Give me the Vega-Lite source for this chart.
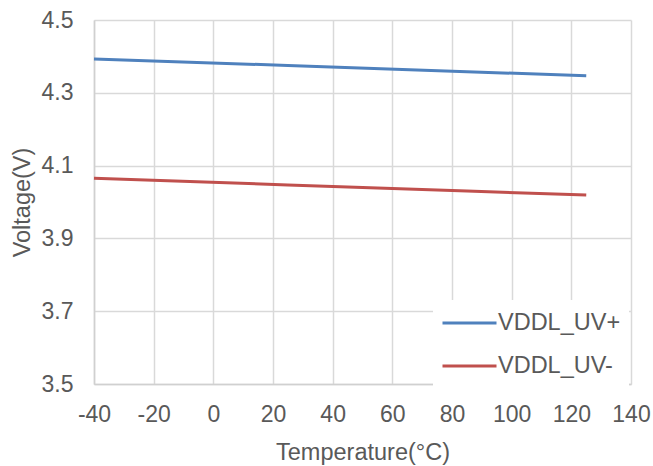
{
  "$schema": "https://vega.github.io/schema/vega-lite/v6.json",
  "autosize": "none",
  "width": 537,
  "height": 364,
  "padding": {"left": 94, "top": 20, "right": 22, "bottom": 82},
  "background": "white",
  "data": {
    "values": [
      {"temp": -40, "voltage": 4.393, "series": "VDDL_UV+"},
      {"temp": 25, "voltage": 4.375, "series": "VDDL_UV+"},
      {"temp": 85, "voltage": 4.358, "series": "VDDL_UV+"},
      {"temp": 125, "voltage": 4.347, "series": "VDDL_UV+"},
      {"temp": -40, "voltage": 4.065, "series": "VDDL_UV-"},
      {"temp": 25, "voltage": 4.047, "series": "VDDL_UV-"},
      {"temp": 85, "voltage": 4.030, "series": "VDDL_UV-"},
      {"temp": 125, "voltage": 4.019, "series": "VDDL_UV-"}
    ]
  },
  "mark": {"type": "line", "strokeWidth": 3, "interpolate": "linear"},
  "encoding": {
    "x": {
      "field": "temp",
      "type": "quantitative",
      "title": "Temperature(°C)",
      "scale": {"domain": [-40, 140], "nice": false, "zero": false},
      "axis": {
        "values": [-40, -20, 0, 20, 40, 60, 80, 100, 120, 140],
        "labelExpr": "'' + datum.value",
        "labelFlush": false,
        "labelOverlap": false,
        "labelPadding": 19,
        "titlePadding": 14
      }
    },
    "y": {
      "field": "voltage",
      "type": "quantitative",
      "title": "Voltage(V)",
      "scale": {"domain": [3.5, 4.5], "nice": false, "zero": false},
      "axis": {
        "values": [3.5, 3.7, 3.9, 4.1, 4.3, 4.5],
        "format": ".1f",
        "labelFlush": false,
        "labelOverlap": false,
        "labelPadding": 21,
        "titlePadding": 7
      }
    },
    "color": {
      "field": "series",
      "type": "nominal",
      "title": null,
      "scale": {"domain": ["VDDL_UV+", "VDDL_UV-"], "range": ["#4F81BD", "#C0504D"]},
      "legend": {
        "orient": "none",
        "legendX": 339,
        "legendY": 280,
        "fillColor": "white",
        "padding": 8,
        "symbolType": "M-1,0H3",
        "symbolSize": 729,
        "symbolStrokeWidth": 3,
        "labelOffset": 27,
        "rowPadding": 16,
        "labelFontSize": 23.5,
        "labelFont": "Liberation Sans",
        "labelColor": "#595959"
      }
    }
  },
  "config": {
    "view": {"stroke": null},
    "axis": {
      "grid": true,
      "gridColor": "#d9d9d9",
      "gridWidth": 1.5,
      "domainColor": "#d0d0d0",
      "domainWidth": 1.5,
      "ticks": false,
      "labelFont": "Liberation Sans",
      "labelFontSize": 23,
      "labelColor": "#595959",
      "titleFont": "Liberation Sans",
      "titleFontSize": 23.5,
      "titleFontWeight": "normal",
      "titleColor": "#595959"
    }
  }
}
